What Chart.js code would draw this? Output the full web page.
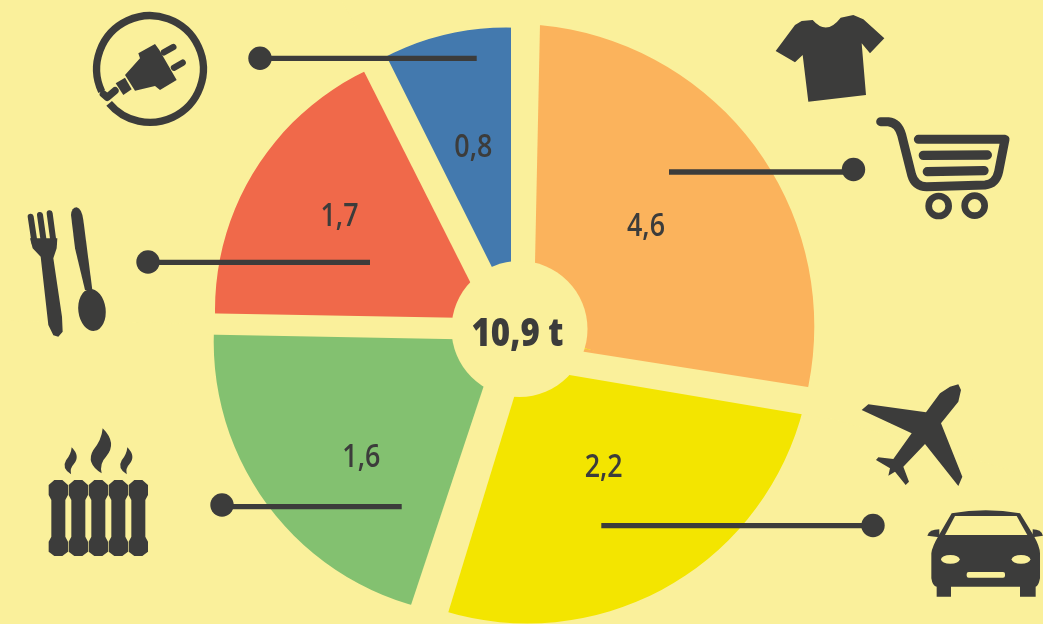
<!DOCTYPE html>
<html><head><meta charset="utf-8">
<style>html,body{margin:0;padding:0;background:#FAF09B;overflow:hidden}canvas{display:block}</style>
<script src="https://cdn.jsdelivr.net/npm/chart.js@4"></script></head>
<body><canvas id="c" width="1043" height="624"></canvas>
<script>
// Data
const categories = ['Konsum', 'Mobilität', 'Heizen', 'Ernährung', 'Strom'];
const values = [4.6, 2.2, 1.6, 1.7, 0.8];
const totalValue = 10.9;
const totalUnit = 't';
// Sweep of each slice as drawn in the picture (degrees); the drawing is not proportional to the values
const sectorDegrees = [103.5, 90.8, 74, 61.4, 30.3];
const sliceColors = ['#FBB35C', '#F3E500', '#83C170', '#F0694A', '#4379AE'];

const BG = '#FAF09B', INK = '#3C3C3B';
const fmt = v => v.toFixed(1).replace('.', ',');

// Layout of decorations (page pixels)
const ROTATION = 2.5, PIE = {x: 514.5, y: 328, r: 306};
const rims = [
  {x:511.6,y:326.4,r:302.7},
  {x:527.4,y:339,r:284.5},
  {x:487.7,y:341.9,r:274},
  {x:480,y:310,r:265},
  {x:506,y:290,r:262.5}
];
const orangePatch = [[578,348],[625,355],[625,362],[578,356]];
const gaps = [
  [[511,0],[540.5,0],[535,263],[533,344],[511,340]],
  [[533,343.8],[830,390.6],[830,419.1],[522,366.9]],
  [[523.3,367],[439.8,640],[399.4,640],[498.7,341]],
  [[190,334.3],[498.7,339.9],[498.7,318.6],[190,312.9]],
  [[489.3,320],[343.1,30],[373.3,30],[511,305.3]]
];
const hole = {x: 519.5, y: 329, r: 68};
const leaders = [
  {dot:[853.5,169.5], from:[853,172], to:[669,172]},
  {dot:[873,525.5], from:[873,525.7], to:[601.3,525.7]},
  {dot:[222,505], from:[222,506.7], to:[401.7,506.7]},
  {dot:[148,262], from:[148,262.3], to:[370,262.3]},
  {dot:[260,58.3], from:[260,58.3], to:[476.7,58.3]}
];
const labelAnchors = [[646,236],[603.7,477.3],[361.3,466.7],[339.5,225.7],[473.3,156.7]];

function poly(ctx, pts){ ctx.beginPath(); pts.forEach((p,i)=> i?ctx.lineTo(p[0],p[1]):ctx.moveTo(p[0],p[1])); ctx.closePath(); ctx.fill(); }
function line(ctx, pts, w){ ctx.lineWidth=w; ctx.lineCap='round'; ctx.lineJoin='round'; ctx.beginPath(); pts.forEach((p,i)=> i?ctx.lineTo(p[0],p[1]):ctx.moveTo(p[0],p[1])); ctx.stroke(); }
function at(ctx, ox, oy, fn){ ctx.save(); ctx.translate(ox,oy); ctx.scale(1/3,1/3); ctx.fillStyle=INK; ctx.strokeStyle=INK; fn(ctx); ctx.restore(); }

function drawIcons(ctx){
  at(ctx,0,0,c=>{
    // plug
    c.lineWidth=22; c.lineCap='butt'; c.beginPath();
    c.arc(450,207,160,155*Math.PI/180,140*Math.PI/180); c.stroke();
    line(c,[[310,282],[322,292],[345,272]],22);
    poly(c,[[415,160],[465,132],[478,150],[530,240],[480,270],[465,258],[405,272],[375,225],[420,175]]);
    poly(c,[[347,250],[375,233],[395,268],[370,285]]);
    line(c,[[492,157],[520,141]],19);
    line(c,[[522,203],[548,188]],19);
    // fork
    line(c,[[92,650],[104,730]],18); line(c,[[120,645],[132,730]],18); line(c,[[149,640],[161,730]],18);
    poly(c,[[90,715],[98,745],[122,770],[145,975],[160,1006],[175,1010],[188,995],[186,950],[160,775],[170,745],[172,715]]);
    // spoon
    c.beginPath(); c.moveTo(213,645); c.quadraticCurveTo(215,622,230,622); c.quadraticCurveTo(245,625,250,660);
    c.lineTo(277,870); c.lineTo(255,870); c.lineTo(225,745); c.closePath(); c.fill();
    c.beginPath(); c.ellipse(276,930,41,63,-0.12,0,Math.PI*2); c.fill();
  });
  at(ctx,760,0,c=>{
    // t-shirt
    c.beginPath(); c.moveTo(47,153); c.lineTo(105,75); c.lineTo(125,63); c.lineTo(158,60);
    c.quadraticCurveTo(200,108,242,53); c.lineTo(280,45); c.lineTo(310,58); c.lineTo(373,115);
    c.lineTo(330,160); c.lineTo(305,130); c.lineTo(318,285); c.lineTo(145,305); c.lineTo(128,165); c.lineTo(105,187);
    c.closePath(); c.fill();
    // cart
    c.lineWidth=27; c.lineCap='round'; c.lineJoin='round'; c.beginPath();
    c.moveTo(362,365); c.lineTo(385,365); c.quadraticCurveTo(415,368,425,405); c.lineTo(455,525);
    c.quadraticCurveTo(465,560,500,560); c.lineTo(675,555); c.quadraticCurveTo(708,552,716,515);
    c.lineTo(735,418); c.lineTo(475,418); c.stroke();
    line(c,[[490,466],[682,465]],28); line(c,[[502,515],[672,512]],28);
    c.lineWidth=20; c.beginPath(); c.arc(536,618,30,0,Math.PI*2); c.stroke();
    c.beginPath(); c.arc(644,617,30,0,Math.PI*2); c.stroke();
  });
  at(ctx,840,370,c=>{
    // plane
    poly(c,[[355,43],[363,60],[355,95],[303,160],[367,320],[355,348],[255,222],[190,290],[207,335],[197,345],[165,305],[145,317],[150,295],[108,270],[115,262],[160,267],[215,190],[65,120],[85,103],[258,127],[300,70],[330,50]]);
    // car
    c.beginPath(); c.moveTo(335,430); c.quadraticCurveTo(437,412,540,430); c.lineTo(580,495);
    c.quadraticCurveTo(600,530,600,550); c.lineTo(600,625); c.quadraticCurveTo(595,650,587,650);
    c.lineTo(587,680); c.lineTo(540,680); c.lineTo(540,650); c.lineTo(333,650); c.lineTo(333,680); c.lineTo(290,680); c.lineTo(290,650);
    c.quadraticCurveTo(278,650,274,625); c.lineTo(274,550); c.quadraticCurveTo(276,530,297,495); c.closePath(); c.fill();
    c.beginPath(); c.moveTo(262,497); c.quadraticCurveTo(268,478,298,478); c.lineTo(298,502); c.closePath(); c.fill();
    c.beginPath(); c.moveTo(609,497); c.quadraticCurveTo(603,478,578,478); c.lineTo(578,502); c.closePath(); c.fill();
    c.fillStyle=BG;
    poly(c,[[345,438],[530,438],[562,495],[315,495]]);
    c.beginPath(); c.ellipse(331,568,28,13,0,0,Math.PI*2); c.fill();
    c.beginPath(); c.ellipse(543,568,28,13,0,0,Math.PI*2); c.fill();
    c.beginPath(); c.roundRect(380,606,115,17,6); c.fill();
  });
  at(ctx,30,420,c=>{
    // radiator and steam
    [85,145,205,265,325].forEach(x=>{
      poly(c,[[x-12,180],[x+12,180],[x+29,195],[x+29,225],[x+21,240],[x+21,350],[x+29,365],[x+29,395],[x+12,408],[x-12,408],[x-29,395],[x-29,365],[x-21,350],[x-21,240],[x-29,225],[x-29,195]]);
    });
    const flame=(x,y,s)=>{ c.beginPath(); c.moveTo(x,y);
      c.quadraticCurveTo(x+45*s,y+45*s,x+10*s,y+85*s); c.quadraticCurveTo(x-10*s,y+105*s,x-3*s,y+135*s);
      c.quadraticCurveTo(x-52*s,y+105*s,x-28*s,y+65*s); c.quadraticCurveTo(x-3*s,y+35*s,x,y); c.closePath(); c.fill(); };
    flame(218,25,1); flame(125,82,0.6); flame(292,82,0.6);
  });
}

const overlay = {
  id: 'overlay',
  afterDatasetsDraw(chart){
    const ctx = chart.ctx; ctx.save();
    // each slice has a slightly different outer rim in the picture
    let a = (ROTATION - 90) * Math.PI / 180;
    rims.forEach((rim, i) => {
      const b = a + sectorDegrees[i] * Math.PI / 180;
      ctx.save();
      ctx.beginPath(); ctx.moveTo(PIE.x, PIE.y); ctx.arc(PIE.x, PIE.y, 700, a, b); ctx.closePath(); ctx.clip();
      ctx.beginPath(); ctx.rect(0, 0, chart.width, chart.height); ctx.arc(rim.x, rim.y, rim.r, 0, Math.PI*2);
      ctx.fillStyle = BG; ctx.fill('evenodd');
      ctx.restore();
      a = b;
    });
    ctx.fillStyle = sliceColors[0]; poly(ctx, orangePatch);
    ctx.fillStyle = BG;
    gaps.forEach(g => poly(ctx, g));
    ctx.beginPath(); ctx.arc(hole.x, hole.y, hole.r, 0, Math.PI*2); ctx.fill();
    ctx.fillStyle = INK; ctx.strokeStyle = INK;
    leaders.forEach(l => {
      ctx.lineWidth = 5.3; ctx.lineCap = 'butt';
      ctx.beginPath(); ctx.moveTo(l.from[0], l.from[1]); ctx.lineTo(l.to[0], l.to[1]); ctx.stroke();
      ctx.beginPath(); ctx.arc(l.dot[0], l.dot[1], 11.7, 0, Math.PI*2); ctx.fill();
    });
    ctx.textAlign = 'center'; ctx.textBaseline = 'alphabetic';
    ctx.font = '600 32px "Open Sans"';
    values.forEach((v,i) => ctx.fillText(fmt(v), labelAnchors[i][0], labelAnchors[i][1], 38));
    ctx.font = '800 39px "Open Sans"';
    ctx.fillText(fmt(totalValue) + ' ' + totalUnit, 517.5, 346, 92);
    drawIcons(ctx);
    ctx.restore();
  }
};

new Chart(document.getElementById('c'), {
  type: 'doughnut',
  data: { labels: categories, datasets: [{ data: sectorDegrees, backgroundColor: sliceColors, borderWidth: 0, spacing: 0 }] },
  options: {
    responsive: false, animation: false, rotation: ROTATION, cutout: 40, radius: PIE.r,
    layout: { padding: { right: 14, top: 32 } },
    plugins: { legend: { display: false }, tooltip: { enabled: false } }
  },
  plugins: [overlay]
});
</script></body></html>
